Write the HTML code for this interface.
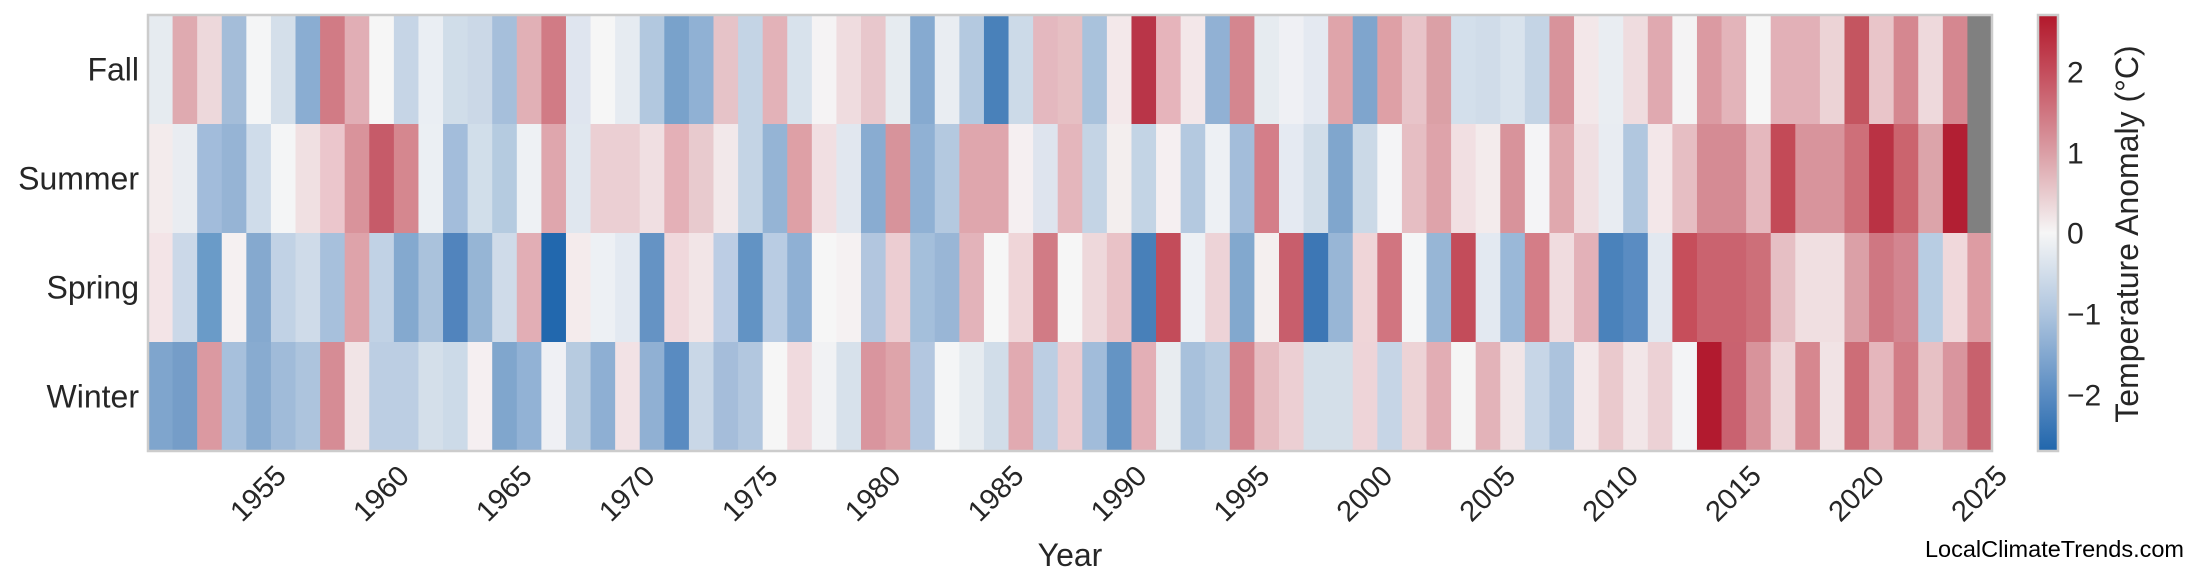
<!DOCTYPE html>
<html><head><meta charset="utf-8"><style>
html,body{margin:0;padding:0;background:#fff;}
svg{display:block;font-family:"Liberation Sans",Arial,sans-serif;}
</style></head><body>
<svg id="s" width="2200" height="585" viewBox="0 0 2200 585" xmlns="http://www.w3.org/2000/svg">
<defs><linearGradient id="cb" x1="0" y1="0" x2="0" y2="1">
<stop offset="0" stop-color="#b2182b"/><stop offset="0.13" stop-color="#c44d5c"/><stop offset="0.32" stop-color="#dba0a7"/><stop offset="0.5" stop-color="#f6f6f6"/><stop offset="0.68" stop-color="#b0c6df"/><stop offset="0.87" stop-color="#5a8cc2"/><stop offset="1" stop-color="#2166ac"/>
</linearGradient></defs>
<g id="cells"></g>
<rect x="148" y="15" width="1844" height="436" fill="none" stroke="#cccccc" stroke-width="2.5"/>
<rect x="2038" y="15" width="20" height="436" fill="url(#cb)" stroke="#cccccc" stroke-width="2.5"/>
<g font-size="32" fill="#262626" text-anchor="end" dominant-baseline="central">
<text x="139" y="69.5">Fall</text><text x="139" y="178.5">Summer</text><text x="139" y="287.5">Spring</text><text x="139" y="396.5">Winter</text>
</g>
<g id="ticks" font-size="29" fill="#262626" text-anchor="middle" dominant-baseline="central"></g>
<text x="1070" y="555" font-size="32" fill="#262626" text-anchor="middle" dominant-baseline="central">Year</text>
<g font-size="30" fill="#262626" dominant-baseline="central">
<text x="2067" y="73">2</text><text x="2067" y="154">1</text><text x="2067" y="234">0</text><text x="2067" y="315">−1</text><text x="2067" y="396">−2</text>
</g>
<text x="2127" y="234" font-size="32" fill="#262626" text-anchor="middle" dominant-baseline="central" transform="rotate(-90 2127 234)">Temperature Anomaly (°C)</text>
<text x="2184" y="549" font-size="23.5" fill="#000" text-anchor="end" dominant-baseline="central">LocalClimateTrends.com</text>
</svg>
<script>
var rows=[
"e6ebf0 dfaab0 edd8db a4bdd9 f4f5f6 d4dfea 8aadd2 d17b85 e1aeb5 f6f6f6 c6d5e6 eaeef3 d0dde9 cbd8e7 a6bfdb e1b0b6 d17b85 dfe5ef f6f6f6 e6ebf1 b2c8df 79a2cb 90b1d4 e6c3c8 c4d4e5 e3b2b8 d8e2ec f5f3f4 efdcdf e8c7cc e6ebf0 86aad0 e9edf2 b4c9e0 4981ba ccdae8 e4b8bf e6bfc3 a9c2dc f3e8ea b93548 e6b4bb f3e7e9 91b1d4 d4868f e6ebf0 eff0f4 e4e9f1 dfa4aa 7fa5cd dea0a6 e8c4c9 dba0a6 d3dfeb d0dce9 d9e3ed c4d4e5 d8939b f3e7e9 e9edf2 efdcdf e0a9b0 f4f3f4 db9aa2 e3b4ba f6f6f6 e2b0b7 e2b0b7 ecd3d6 c45560 e9c5c9 d58790 eed9dc d58790 808080",
"f3ebec e9ecf1 a2bcdb 96b4d5 cfdcea f4f5f6 f0e0e2 ebc6cc d9939b c65b69 d5878f ebeff3 a3bddb d1deea b5cbe0 eef1f4 dfa6ad e0e7ef ebcfd3 ebcfd3 f0dfe2 e4b0b7 e8cace f2e8ea c4d4e5 95b4d5 dea0a6 f1dfe2 e1e7ef 89acd1 d7939b 90b1d4 b4c9e0 dfa6ad dfa6ad f5eff1 dee4ee e4b6bc c4d4e5 f3eeee c3d4e5 f5eff1 b4c9e0 edf0f4 a3bdda d47e89 e5eaf2 d1dde9 80a6cd cbd9e7 f4f4f6 e6bec3 dea3aa f1dfe2 f3ebec d8939b f4f4f6 e0a8ae f0dfe2 e8ecf2 b1c7df f3e7e9 e6bec3 d58b94 d58b94 e5b8be c34a57 d8949c d8949c ce6f79 ba3244 cb646e dca4aa b21f33 808080",
"f3e4e7 cbd8e8 6a9bc8 f5f0f1 85a9cf c1d2e5 cfdbe9 a7c0dc dea3aa c1d2e5 84a9cf aac2dc 5184bd 96b5d5 cfdbe9 e2aeb5 2268ae f4ebec edf0f4 e3e9f1 6593c4 f0d8dc f2e5e7 bccde4 6293c4 b9cce3 8fb0d4 f6f6f6 f5f1f2 b2c6df eccdd2 a4bfdb 99b6d6 e3b3ba f6f6f6 efd5d8 d17b85 f6f6f6 eed8db e9c2c7 4880b9 c34c5a edf0f4 edd3d7 82a8ce f4efef c85e6c 3d77b5 98b6d6 efd5d8 d17580 f4f5f6 97b6d6 c34c5a e3e9f1 9ab8d8 d47d87 f0dcdf e3b1b8 4a82bb 5a8cc2 e2e8f0 c64e5b ca636f ca636f cd6f79 e6bfc4 f0dfe1 f0dfe1 dba0a7 cf7782 d38590 b8cde3 f0d8db dd9ca3",
"7fa5cd 759dc8 db99a1 a7c0dc 88abd0 a0bbd9 adc4dd d68c95 f1e4e6 bccee3 bccee3 d4dfea ccdae8 f5eff1 80a6cd 92b2d5 eff0f4 b7cbe0 8eafd3 f2e2e5 90b0d3 598bc1 c9d7e7 a5bdda b2c7df f6f6f6 f0dade f1f2f4 d7e1eb d9959e dea4aa b3c7e0 f4f5f6 e6ebf0 d1dde9 e1aab1 bccee3 ecccd1 a1bcda 6494c4 e3afb6 e8ecf0 a8c1dc b5cae0 d4838d e6bcc1 eccfd3 d4dfe9 d4dfe9 eed4d8 c6d5e6 edd3d6 e2adb4 f5f5f5 e3b3b9 f1e5e7 c7d6e7 acc3dd f3e8ea eac9cd f2e6e8 ecd1d5 f3f4f6 b21a2f c96270 d8939b edd5d8 d6878f f1e3e5 cd6d77 e5b6bc d27c86 e7c1c5 d9959e c8616d"];
var g=document.getElementById("cells"),cw=1844/75,rh=109,h="";
rows.forEach(function(r,i){r.split(" ").forEach(function(c,j){
h+='<rect x="'+(148+j*cw).toFixed(2)+'" y="'+(15+i*rh)+'" width="'+(cw+0.6).toFixed(2)+'" height="'+rh+'" fill="#'+c+'"/>';});});
g.innerHTML=h;
var t="";for(var y=1955;y<=2025;y+=5){var cx=(148+(y-1951+0.5)*cw).toFixed(1);
t+='<text x="'+cx+'" y="494" transform="rotate(-45 '+cx+' 494)">'+y+'</text>';}
document.getElementById("ticks").innerHTML=t;
</script>
</body></html>
